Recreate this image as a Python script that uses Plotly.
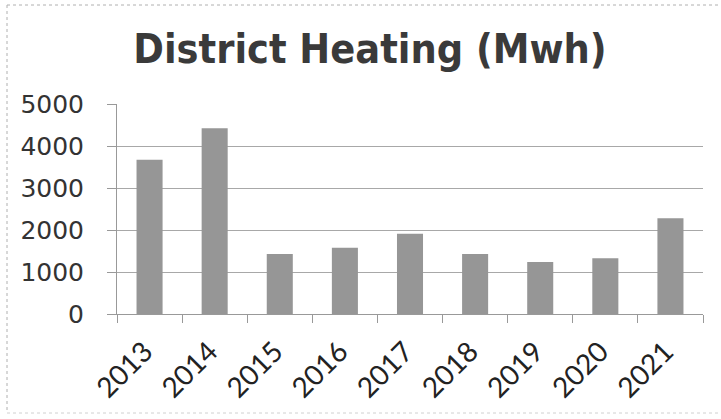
import plotly.graph_objects as go

years = ["2013", "2014", "2015", "2016", "2017", "2018", "2019", "2020", "2021"]
heating_mwh = [3670, 4420, 1430, 1580, 1910, 1430, 1240, 1330, 2280]
y_ticks = [0, 1000, 2000, 3000, 4000, 5000]

W, H = 721, 419
L, R, T, B = 117, 18, 104, 105
pw, ph = W - L - R, H - T - B

def px_x(x):
    return (x - L) / pw

def px_y(y):
    return (H - B - y) / ph

fig = go.Figure(go.Bar(
    x=years, y=heating_mwh,
    marker=dict(color="#969696", line=dict(width=0)),
))

fig.update_layout(
    width=W, height=H,
    margin=dict(l=L, r=R, t=T, b=B, autoexpand=False),
    paper_bgcolor="white", plot_bgcolor="white",
    bargap=0.6,
    showlegend=False,
    title=dict(text="<b>District Heating (Mwh)</b>", xref="container", x=370 / W, xanchor="center",
               yref="container", y=1 - 49 / H, yanchor="middle",
               font=dict(family="DejaVu Sans Condensed", size=41, color="#3a3a3a")),
    xaxis=dict(
        type="category", tickangle=-45, tickson="boundaries", automargin=False,
        ticks="outside", ticklen=8, tickcolor="#999999",
        showline=True, linecolor="#999999", linewidth=1,
        showgrid=False,
        tickfont=dict(family="Lato", size=28, color="#222222"),
        ticklabelstandoff=9, ticklabelshift=-5,
    ),
    yaxis=dict(
        range=[0, 5000], tickvals=y_ticks, automargin=False,
        ticks="outside", ticklen=9, tickcolor="#999999",
        showline=True, linecolor="#999999", linewidth=1,
        showgrid=True, gridcolor="#a8a8a8", gridwidth=1,
        zeroline=False,
        tickfont=dict(family="DejaVu Sans", size=25, color="#333333"),
        ticklabelstandoff=18,
    ),
    shapes=[
        dict(type="line", xref="paper", yref="paper",
             x0=px_x(7), x1=px_x(725), y0=px_y(5), y1=px_y(5),
             line=dict(color="#b0b0b0", width=1, dash="dot")),
        dict(type="line", xref="paper", yref="paper",
             x0=px_x(7), x1=px_x(7), y0=px_y(5), y1=px_y(413),
             line=dict(color="#b0b0b0", width=1, dash="dot")),
        dict(type="line", xref="paper", yref="paper",
             x0=px_x(7), x1=px_x(725), y0=px_y(413), y1=px_y(413),
             line=dict(color="#d0d0d0", width=1, dash="dot")),
    ],
)

fig.write_html("out.html", config={"displayModeBar": False},
               post_script="document.body.style.margin='0';")
